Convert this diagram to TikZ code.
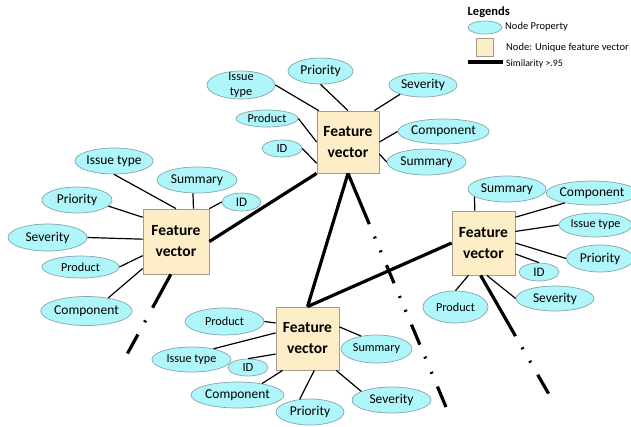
\documentclass[tikz,border=0pt]{standalone}
\usepackage{fontspec}
\setmainfont{Carlito}
\usetikzlibrary{shapes.geometric}
\definecolor{propfill}{RGB}{174,246,249}
\definecolor{propline}{RGB}{135,165,170}
\definecolor{fvfill}{RGB}{254,238,200}
\definecolor{fvline}{RGB}{165,155,140}
\tikzstyle{prop}=[ellipse, draw=propline, line width=0.7pt, fill=propfill, inner sep=0pt, font=\fontsize{13.5}{15}\selectfont]
\tikzstyle{propsm}=[prop, font=\fontsize{12.2}{14}\selectfont]
\tikzstyle{fvbox}=[rectangle, draw=fvline, line width=0.8pt, fill=fvfill, minimum width=63pt, minimum height=63pt, inner sep=0pt, align=center, font=\bfseries\fontsize{15.5}{21}\selectfont]
\tikzstyle{link}=[line width=1.2pt]
\tikzstyle{simil}=[line width=3.2pt]

\begin{document}
\begin{tikzpicture}[x=1pt,y=-1pt]

\tikzstyle{legtext}=[anchor=west, inner sep=0pt, font=\fontsize{10.5}{12}\selectfont]
\tikzstyle{chainT}=[simil, dash pattern=on 55pt off 13.5pt on 2pt off 13pt on 2pt off 14pt on 19.5pt off 14pt on 2pt off 13pt on 2pt off 14pt on 21.7pt off 13pt on 2pt off 14.5pt on 2pt off 14pt on 23pt]
\tikzstyle{chainR}=[simil, dash pattern=on 70pt off 13pt on 2pt off 13.5pt on 2pt off 14pt on 23pt]
\tikzstyle{chainL}=[simil, dash pattern=on 38pt off 14.5pt on 2pt off 14pt on 23pt]

\useasboundingbox (0,0) rectangle (631,426);

% legend
\node (lgHead) [anchor=west, inner sep=0pt, font=\bfseries\fontsize{12.5}{14}\selectfont] at (467.5,12) {Legends};
\node (lgProp) [prop, minimum width=34pt, minimum height=13pt] at (485,27.5) {};
\node (lgPropT) [legtext] at (505,27) {Node Property};
\node (lgBox) [fvbox, minimum width=17pt, minimum height=18pt] at (484.5,47) {};
\node (lgBoxT) [legtext] at (506,47.5) {Node: Unique feature vector};
\coordinate (lgA) at (468,62);
\coordinate (lgB) at (503,62);
\node (lgSimT) [legtext, font=\fontsize{9.8}{11}\selectfont] at (506,63.5) {Similarity >.95};
\draw [simil] (lgA) -- (lgB);

% feature vectors
\node (Top) [fvbox, minimum width=62pt, minimum height=62pt] at (348,142) {Feature\\vector};
\node (Left) [fvbox, minimum width=66pt, minimum height=65pt] at (176,241.5) {Feature\\vector};
\node (Bot) [fvbox] at (307.5,338.5) {Feature\\vector};
\node (Right) [fvbox, minimum height=64pt] at (483.5,243) {Feature\\vector};

% properties of the top vector
\node (tIss) [prop, align=center, inner ysep=-5pt, minimum width=68pt, minimum height=28pt, font=\fontsize{12.3}{14.5}\selectfont] at (241,85) {Issue\\type};
\node (tPri) [prop, minimum width=65pt, minimum height=26pt] at (320.5,71) {Priority};
\node (tSev) [prop, minimum width=68pt, minimum height=24pt] at (423,85) {Severity};
\node (tPro) [propsm, minimum width=62pt, minimum height=17pt] at (267,118.5) {Product};
\node (tID) [prop, minimum width=40pt, minimum height=17pt, font=\fontsize{12.5}{14}\selectfont] at (282,148.5) {ID};
\node (tCom) [prop, minimum width=87pt, minimum height=25pt] at (443.5,131.5) {Component};
\node (tSum) [prop, minimum width=79pt, minimum height=26pt] at (426.5,162) {Summary};

% properties of the left vector
\node (lIss) [prop, minimum width=78pt, minimum height=26pt] at (114,161) {Issue type};
\node (lSum) [prop, minimum width=80pt, minimum height=26pt] at (197,180) {Summary};
\node (lID) [prop, minimum width=39pt, minimum height=18pt, font=\fontsize{13}{14}\selectfont] at (241.5,202) {ID};
\node (lPri) [prop, minimum width=70pt, minimum height=26pt] at (77,200) {Priority};
\node (lSev) [prop, minimum width=79pt, minimum height=27pt] at (47.5,237.5) {Severity};
\node (lPro) [propsm, minimum width=77pt, minimum height=22pt] at (80.5,267) {Product};
\node (lCom) [prop, minimum width=89pt, minimum height=29pt] at (86.5,311) {Component};

% properties of the right vector
\node (rSum) [prop, minimum width=78pt, minimum height=26pt] at (507,189) {Summary};
\node (rCom) [prop, minimum width=84pt, minimum height=24pt] at (592,193) {Component};
\node (rIss) [propsm, minimum width=73pt, minimum height=24pt] at (595.5,225) {Issue type};
\node (rPri) [prop, minimum width=67pt, minimum height=27pt] at (600,258.5) {Priority};
\node (rID) [prop, minimum width=40pt, minimum height=18pt, font=\fontsize{13}{14}\selectfont] at (539,272) {ID};
\node (rSev) [prop, minimum width=78pt, minimum height=25pt] at (555,298.5) {Severity};
\node (rPro) [propsm, minimum width=65pt, minimum height=32pt] at (455.5,307) {Product};

% properties of the bottom vector
\node (bPro) [propsm, minimum width=79pt, minimum height=27pt] at (224.5,321.5) {Product};
\node (bIss) [propsm, minimum width=79pt, minimum height=25pt] at (191.5,359.5) {Issue type};
\node (bID) [prop, minimum width=40pt, minimum height=17pt, font=\fontsize{12.5}{14}\selectfont] at (248,367.5) {ID};
\node (bCom) [prop, minimum width=93pt, minimum height=26pt] at (237.5,395) {Component};
\node (bPri) [prop, minimum width=68pt, minimum height=26pt] at (310,412) {Priority};
\node (bSum) [propsm, minimum width=71pt, minimum height=28pt] at (376.5,349) {Summary};
\node (bSev) [prop, minimum width=79pt, minimum height=26pt] at (391.5,400) {Severity};

% property links
\draw [link] (tIss.east) -- (Top.133);
\draw [link] (tPri.south) -- (Top.north);
\draw [link] (tSev.202) -- (Top.50);
\draw [link] (tCom.west) -- (Top.east);
\draw [link] (tSum.west) -- (Top.-21);
\draw [link] (tPro.east) -- (Top.west);
\draw [link] (tID.east) -- (Top.214);

\draw [link] (lIss.south) -- (Left.north);
\draw [link] (lSum.253) -- (Left.62);
\draw [link] (lID.west) -- (Left.north east);
\draw [link] (lPri.-11) -- (Left.144.5);
\draw [link] (lSev.east) -- (Left.176);
\draw [link] (lPro.east) -- (Left.203.7);
\draw [link] (lCom.31) -- (Left.219);

\draw [link] (rSum.193) -- (Right.105);
\draw [link] (rCom.200) -- (Right.39.5);
\draw [link] (rIss.west) -- (Right.20.8);
\draw [link] (rPri.west) -- (Right.east);
\draw [link] (rID.north) -- (Right.-19);
\draw [link] (rSev.west) -- (Right.-84);
\draw [link] (rPro.north) -- (Right.245.6);

\draw [link] (bPro.east) -- (Bot.154);
\draw [link] (bIss.26) -- (Bot.170);
\draw [link] (bID.north) -- (Bot.206);
\draw [link] (bCom.25) -- (Bot.232);
\draw [link] (bPri.129) -- (Bot.282);
\draw [link] (bSum.140) -- (Bot.20);
\draw [link] (bSev.164) -- (Bot.-48);

% similarity
\coordinate (tEnd) at (446,407);
\coordinate (rEnd) at (548.5,393.5);
\coordinate (lEnd) at (127.5,353.5);
\draw [simil] (Left.east) -- (Top.south west);
\draw [simil] (Top.south) -- (Bot.north);
\draw [simil] (Bot.north) -- (Right.west);
\draw [chainT] (Top.south) -- (tEnd);
\draw [chainR] (Right.265) -- (rEnd);
\draw [chainL] (Left.261) -- (lEnd);

\end{tikzpicture}
\end{document}
